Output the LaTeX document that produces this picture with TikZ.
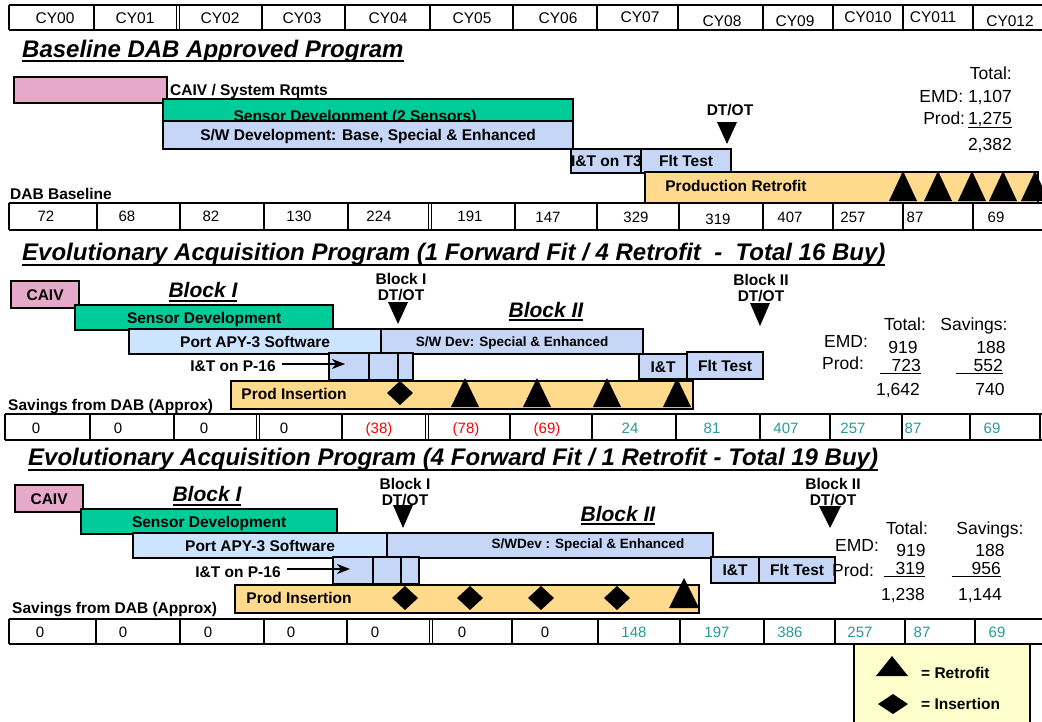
\documentclass[tikz,border=0pt]{standalone}
\usepackage{fontspec}
\setmainfont{Liberation Sans}
\usetikzlibrary{arrows.meta}
\definecolor{pinkc}{HTML}{E5A9C9}
\definecolor{greenc}{HTML}{00CC99}
\definecolor{swc}{HTML}{C5D6F7}
\definecolor{portc}{HTML}{CCE4FF}
\definecolor{orgc}{HTML}{FFD98C}
\definecolor{redc}{HTML}{FF0000}
\definecolor{tealc}{HTML}{2B9999}
\definecolor{legc}{HTML}{FFFFCC}
% underline at fixed depth
\newcommand\ulb[3][4.5pt]{\setbox0\hbox{#3}\rlap{\rule[-#1]{\wd0}{#2}}\box0}
% box: name, x1, y1, x2, y2, colour, style, text
\newcommand\gbox[8]{%
  \pgfmathsetmacro\myBW{#4-#2}\pgfmathsetmacro\myBH{#5-#3}%
  \node[bx, fill=#6, minimum width=\myBW pt, minimum height=\myBH pt, #7] (#1) at (#2,#3) {#8};}
\newcommand\uptri[4]{\fill[black] (#1-#3,#2) -- (#1,#2-#4) -- (#1+#3,#2) -- cycle;}
\newcommand\dntri[4]{\fill[black] (#1-#3,#2) -- (#1+#3,#2) -- (#1,#2+#4) -- cycle;}
\newcommand\dmd[4]{\fill[black] (#1-#3,#2) -- (#1,#2-#4) -- (#1+#3,#2) -- (#1,#2+#4) -- cycle;}
\newcommand\cellrow[5]{% y1 y2 left thick-separators double-separators
  \draw[cell] (#3,#1) -- (1043,#1) (#3,#2) -- (1043,#2) (#3,#1) -- (#3,#2);
  \foreach \xx in {#4} {\draw[cell] (\xx,#1) -- (\xx,#2);}
  \foreach \xx in {#5} {\draw[line width=1.1pt] (\xx-1.8,#1) -- (\xx-1.8,#2) (\xx+1.8,#1) -- (\xx+1.8,#2);}
}
\tikzset{
  bx/.style={draw=black, line width=2.2pt, anchor=north west, inner sep=0pt,
    font=\fontsize{15.5}{18}\selectfont\bfseries, text height=11pt, text depth=0pt},
  lbl/.style={inner sep=0pt, font=\fontsize{15.5}{18}\selectfont\bfseries, text height=11pt, text depth=0pt},
  smlbl/.style={inner sep=0pt, font=\fontsize{13.5}{16}\selectfont\bfseries, text height=9.7pt, text depth=0pt},
  two/.style={inner sep=0pt, align=center, font=\fontsize{15.5}{16.5}\selectfont\bfseries},
  val/.style={inner sep=0pt, font=\fontsize{15}{18}\selectfont, text height=10.8pt, text depth=0pt},
  totb/.style={inner sep=0pt, font=\fontsize{17.5}{20}\selectfont, text height=12.5pt, text depth=0pt},
  ttl/.style={inner sep=0pt, anchor=base west, font=\fontsize{24}{28}\selectfont\bfseries\itshape},
  blk/.style={inner sep=0pt, anchor=base, font=\fontsize{21}{24}\selectfont\bfseries\itshape},
  cell/.style={line width=2.6pt},
  arr/.style={line width=2pt, -{Stealth[length=13pt,width=10pt,inset=4pt]}},
}
\begin{document}
\begin{tikzpicture}[x=1pt,y=-1pt]
\useasboundingbox (0,0) rectangle (1042,721);
\fill[white] (0,0) rectangle (1042,721);

% ---------------- header row
\cellrow{5}{30}{9}{94,262,345,430,513,597,678,763,833,903,973}{178}
\foreach \xx/\t/\yy in {55/CY00/18,135/CY01/18,220/CY02/18,302/CY03/18,388/CY04/18,472/CY05/18,
  558/CY06/18,640/CY07/17,722/CY08/21,795/CY09/21,868/CY010/17,933/CY011/17,1010/CY012/21}
  \node[val, font=\fontsize{15.5}{18}\selectfont] (h\t) at (\xx,\yy) {\t};

% ---------------- section 1
\node[ttl] (title1) at (22,57) {\ulb[5pt]{2pt}{Baseline DAB Approved Program}};
\gbox{caiv1}{13}{76}{166}{102}{pinkc}{}{}
\node[lbl, anchor=west] (caiv1t) at (170,90) {CAIV / System Rqmts};
\gbox{sens1}{162}{98}{572}{120}{greenc}{}{}
\node[lbl] (sens1t) at (355,115.5) {Sensor Development (2 Sensors)};
\gbox{sw1}{162}{120}{572}{148}{swc}{}{S/W Development: Base, Special \& Enhanced}
\gbox{it1}{570}{148}{640}{172}{swc}{}{I\&T on T3}
\gbox{flt1}{640}{148}{730}{172}{swc}{}{Flt Test}
\node[lbl] (dtot1) at (730,110) {DT/OT};
\dntri{727}{122}{10}{22}
\gbox{prod1}{644}{171}{1037}{202}{orgc}{}{}
\node[lbl] (prod1t) at (736,186) {Production Retrofit};
\foreach \xx in {903,938,972,1003,1035} {\uptri{\xx}{201}{14}{30}}
\node[totb, anchor=east] (tot1) at (1012,73) {Total:};
\node[totb, anchor=east] (emd1) at (1012,96) {EMD: 1,107};
\node[totb, anchor=east] (prd1) at (1012,118) {Prod:\,\ulb[4pt]{1.6pt}{1,275}};
\node[totb, anchor=east] (sum1) at (1012,144) {2,382};
\node[lbl, anchor=west] (dab) at (10,194) {DAB Baseline};
\cellrow{203}{230}{9}{97,180,264,348,515,597,679,763,833,903,973}{430}
\foreach \xx/\t/\yy in {46/72/216,127/68/216,211/82/216,299/130/216,379/224/216,470/191/216,548/147/217,
  636/329/217,718/319/219,790/407/217,853/257/217,915/87/217,996/69/217}
  \node[val] (r1v\xx) at (\xx,\yy) {\t};

% ---------------- section 2
\node[ttl] (title2) at (22,260.5) {\ulb[5pt]{2pt}{Evolutionary Acquisition Program (1 Forward Fit / 4 Retrofit \ - \ Total 16 Buy)}};
\gbox{caiv2}{10}{280}{78}{307}{pinkc}{}{CAIV}
\node[blk] (blkI2) at (203,297.5) {\ulb[4pt]{1.7pt}{Block I}};
\gbox{sens2}{74}{304}{332}{329}{greenc}{}{Sensor Development}
\gbox{port2}{128}{328}{380}{353}{portc}{}{Port APY-3 Software}
\gbox{swd2}{380}{328}{642}{353}{swc}{font=\fontsize{13.5}{16}\selectfont\bfseries, text height=9.7pt}{S/W Dev: Special \& Enhanced}
\node[two] (dtI2) at (401,287) {Block I\\DT/OT};
\dntri{398}{302}{10}{22}
\node[blk] (blkII2) at (546,317) {\ulb[4pt]{1.7pt}{Block II}};
\node[two] (dtII2) at (761,288) {Block II\\DT/OT};
\dntri{760}{303}{10}{23}
\gbox{p16a2}{328}{352}{368}{379}{swc}{}{}
\gbox{p16b2}{368}{352}{397}{379}{swc}{}{}
\gbox{p16c2}{397}{352}{412}{379}{swc}{}{}
\node[lbl] (p16t2) at (233,366) {I\&T on P-16};
\coordinate (p16e2) at (345,364);
\draw[arr] ([xshift=6pt,yshift=2pt]p16t2.east) -- (p16e2);
\gbox{prod2}{230}{380}{692}{408}{orgc}{}{}
\node[lbl] (prod2t) at (294,394) {Prod Insertion};
\gbox{it2}{638}{353}{686}{378}{swc}{}{I\&T}
\gbox{flt2}{686}{351}{762}{378}{swc}{}{Flt Test}
\dmd{400}{393}{13}{12}
\foreach \xx in {465,537,607,677} {\uptri{\xx}{407}{14}{29}}
\node[totb] (tot2) at (905,324) {Total:};
\node[totb] (sav2) at (974,324) {Savings:};
\node[totb] (emd2l) at (846,341) {EMD:};
\node[totb] (emd2a) at (903,347) {919};
\node[totb] (emd2b) at (991,347) {188};
\node[totb] (prd2l) at (843,363) {Prod:};
\node[totb, anchor=east] (prd2a) at (921,365) {\ulb[3pt]{1.6pt}{\hspace{12pt}723}};
\node[totb, anchor=east] (prd2b) at (1003,365) {\ulb[3pt]{1.6pt}{\hspace{18pt}552}};
\node[totb] (sum2a) at (898,389) {1,642};
\node[totb] (sum2b) at (990,389) {740};
\node[lbl, anchor=west] (sav2l) at (8,405) {Savings from DAB (Approx)};
\cellrow{414}{440}{5}{90,174,342,510,592,676,760,830,902,970,1040}{258,427}
\foreach \xx/\t in {36/0,118/0,204/0,284/0}
  \node[val] (r2v\xx) at (\xx,428) {\t};
\foreach \xx/\t in {379/(38),466/(78),547/(69)}
  \node[val, text=redc] (r2v\xx) at (\xx,428) {\t};
\foreach \xx/\t in {630/24,712/81,786/407,853/257,913/87,992/69}
  \node[val, text=tealc] (r2v\xx) at (\xx,428) {\t};

% ---------------- section 3
\node[ttl] (title3) at (28,465.5) {\ulb[5pt]{2pt}{Evolutionary Acquisition Program (4 Forward Fit / 1 Retrofit - Total 19 Buy)}};
\gbox{caiv3}{14}{484}{82}{511}{pinkc}{}{CAIV}
\node[blk] (blkI3) at (207,501.5) {\ulb[4pt]{1.7pt}{Block I}};
\gbox{sens3}{80}{508}{336}{533}{greenc}{}{Sensor Development}
\gbox{port3}{132}{532}{386}{557}{portc}{}{Port APY-3 Software}
\gbox{swd3}{386}{532}{712}{557}{swc}{}{}
\node[smlbl] (swd3t) at (588,544) {S/WDev : Special \& Enhanced};
\node[two] (dtI3) at (405,492) {Block I\\DT/OT};
\dntri{403}{505}{10}{23}
\node[blk] (blkII3) at (618,521) {\ulb[4pt]{1.7pt}{Block II}};
\node[two] (dtII3) at (833,492) {Block II\\DT/OT};
\dntri{830}{506}{11}{22}
\gbox{p16a3}{332}{556}{372}{583}{swc}{}{}
\gbox{p16b3}{372}{556}{400}{583}{swc}{}{}
\gbox{p16c3}{400}{556}{418}{583}{swc}{}{}
\node[lbl] (p16t3) at (238,572) {I\&T on P-16};
\coordinate (p16e3) at (350,569);
\draw[arr] ([xshift=6pt,yshift=3pt]p16t3.east) -- (p16e3);
\gbox{prod3}{234}{584}{698}{612}{orgc}{}{}
\node[lbl] (prod3t) at (299,598) {Prod Insertion};
\gbox{it3}{710}{556}{758}{582}{swc}{}{I\&T}
\gbox{flt3}{758}{556}{834}{582}{swc}{}{Flt Test}
\foreach \xx in {405,470,541,617} {\dmd{\xx}{598}{13}{12}}
\uptri{684}{608}{15}{30}
\node[totb] (tot3) at (907,528) {Total:};
\node[totb] (sav3) at (990,528) {Savings:};
\node[totb] (emd3l) at (857,545) {EMD:};
\node[totb] (emd3a) at (911,550) {919};
\node[totb] (emd3b) at (990,550) {188};
\node[totb] (prd3l) at (853,570) {Prod:};
\node[totb, anchor=east] (prd3a) at (925,568) {\ulb[3pt]{1.6pt}{\hspace{12pt}319}};
\node[totb, anchor=east] (prd3b) at (1001,568) {\ulb[3pt]{1.6pt}{\hspace{20pt}956}};
\node[totb] (sum3a) at (903,594) {1,238};
\node[totb] (sum3b) at (980,594) {1,144};
\node[lbl, anchor=west] (sav3l) at (12,608) {Savings from DAB (Approx)};
\cellrow{619}{644}{9}{96,180,264,347,512,598,680,764,835,905,975}{431}
\foreach \xx/\t in {40/0,123/0,208/0,291/0,375/0,462/0,545/0}
  \node[val] (r3v\xx) at (\xx,632) {\t};
\foreach \xx/\t in {634/148,717/197,790/386,860/257,922/87,997/69}
  \node[val, text=tealc] (r3v\xx) at (\xx,632) {\t};

% ---------------- legend
\gbox{legend}{853}{643}{1029}{723}{legc}{}{}
\uptri{892}{676}{16}{20}
\node[lbl, anchor=west] (legR) at (921,673) {= Retrofit};
\dmd{893}{704}{15}{10}
\node[lbl, anchor=west] (legI) at (921,704) {= Insertion};
\end{tikzpicture}
\end{document}
